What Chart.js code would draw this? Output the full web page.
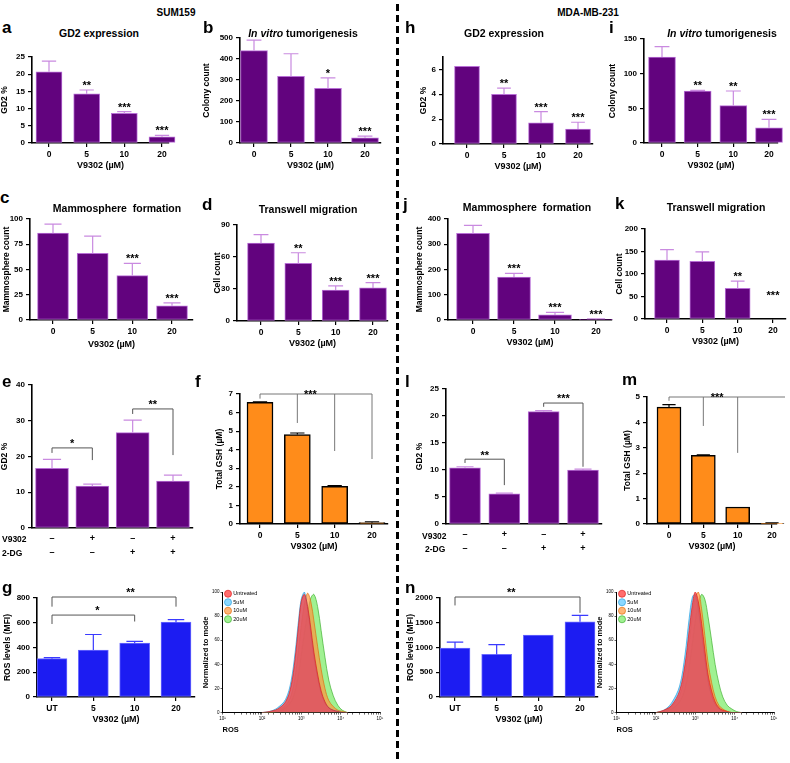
<!DOCTYPE html>
<html>
<head>
<meta charset="utf-8">
<script src="https://cdn.jsdelivr.net/npm/chart.js"></script>
<style>
  body { margin: 0; background: #fff; }
  #page { position: relative; width: 790px; height: 763px; overflow: hidden; font-family: "Liberation Sans", Arial, sans-serif; }
  #page canvas { position: absolute; }
  .lbl { position: absolute; white-space: pre; font-weight: bold; color: #000; line-height: 1; }
  .letter { font-size: 17px; transform: translateY(-50%); }
  .head { font-size: 10px; transform: translate(-50%, -50%); }
  .title { font-size: 10.5px; transform: translate(-50%, -50%); }
  .row { font-size: 8.5px; transform: translateY(-50%); }
  #divider { position: absolute; left: 396px; top: 4px; width: 3px; height: 760px;
    background: repeating-linear-gradient(to bottom, #000 0 7px, transparent 7px 11px); }
</style>
</head>
<body>
<div id="page"><div id="divider"></div></div>
<script>
// categories
const doses = ["0", "5", "10", "20"];
const rosCats = ["UT", "5", "10", "20"];
const rowV9302 = ["–", "+", "–", "+"];
const row2DG = ["–", "–", "+", "+"];

// SUM159
const gd2Sum = [20.7, 14.3, 8.6, 1.8];
const gd2SumSd = [3.1, 1.1, 0.5, 0.4];
const gd2SumStars = ["", "**", "***", "***"];
const colonySum = [440, 318, 260, 25];
const colonySumSd = [50, 107, 50, 8];
const colonySumStars = ["", "", "*", "***"];
const mammoSum = [86, 66, 44, 14];
const mammoSumSd = [9, 17, 12, 3];
const mammoSumStars = ["", "", "***", "***"];
const migSum = [73, 54, 29, 31];
const migSumSd = [8, 10, 4, 5];
const migSumStars = ["", "**", "***", "***"];
const dgSum = [16.7, 11.7, 26.7, 13.1];
const dgSumSd = [2.5, 0.6, 3.5, 1.7];
const gshSum = [6.55, 4.82, 2.03, 0.07];
const gshSumSd = [0.03, 0.08, 0.04, 0.05];
const rosSum = [310, 380, 435, 605];
const rosSumSd = [8, 125, 15, 20];

// MDA-MB-231
const gd2Mda = [6.25, 4.0, 1.7, 1.2];
const gd2MdaSd = [0, 0.5, 0.9, 0.55];
const gd2MdaStars = ["", "**", "***", "***"];
const colonyMda = [124, 75, 54, 22];
const colonyMdaSd = [15, 1, 21, 12];
const colonyMdaStars = ["", "**", "**", "***"];
const mammoMda = [343, 170, 20, 2];
const mammoMdaSd = [32, 15, 10, 3];
const mammoMdaStars = ["", "***", "***", "***"];
const migMda = [131, 128, 68, 0];
const migMdaSd = [23, 21, 16, 0];
const migMdaStars = ["", "", "**", "***"];
const dgMda = [10.4, 5.6, 20.8, 10.0];
const dgMdaSd = [0.2, 0.1, 0.2, 0.15];
const gshMda = [4.6, 2.7, 0.67, 0.03];
const gshMdaSd = [0.1, 0.02, 0, 0.02];
const rosMda = [990, 860, 1250, 1520];
const rosMdaSd = [120, 200, 0, 130];

// flow histograms (ROS, % of mode)
const histNames = ["Untreated", "5uM", "10uM", "20uM"];
const histX = [100, 160, 250, 400, 550, 700, 850, 1000, 1200, 1450, 1750, 2100, 2600, 3200, 4000, 5000, 6500, 8500, 11000, 15000];
const histSumUT = [0, 1, 3, 9, 22, 45, 72, 92, 98, 88, 70, 50, 32, 18, 9, 4, 2, 1, 0, 0];
const histSum5 = [0, 1, 4, 11, 26, 50, 76, 94, 100, 86, 66, 46, 29, 16, 8, 4, 2, 1, 0, 0];
const histSum10 = [0, 0, 2, 6, 14, 30, 52, 72, 90, 99, 92, 76, 55, 36, 20, 10, 5, 2, 1, 0];
const histSum20 = [0, 0, 1, 4, 9, 18, 32, 48, 66, 82, 95, 98, 88, 68, 46, 27, 14, 6, 2, 0];
const histMdaUT = [0, 2, 6, 18, 40, 68, 90, 100, 92, 74, 52, 32, 18, 9, 4, 2, 1, 0, 0, 0];
const histMda5 = [0, 2, 8, 22, 48, 78, 96, 98, 86, 66, 45, 27, 14, 7, 3, 1, 0, 0, 0, 0];
const histMda10 = [0, 1, 5, 14, 32, 58, 82, 96, 100, 86, 64, 42, 25, 13, 6, 3, 1, 0, 0, 0];
const histMda20 = [0, 1, 3, 9, 20, 38, 58, 76, 90, 98, 94, 80, 60, 40, 24, 13, 6, 3, 1, 0];

const FONT = '"Liberation Sans", Arial, sans-serif';
const page = document.getElementById("page");

const schemes = {
  purple: { fill: "#62037e", edge: "#b86fd6", err: "#c98ae0", edgeW: 1 },
  orange: { fill: "#ff8c1a", edge: "#000", err: "#000", edgeW: 1.5 },
  blue: { fill: "#1c1cf2", edge: "#6b6bff", err: "#3a3aff", edgeW: 1 }
};

const marks = {
  id: "marks",
  afterDatasetsDraw(chart, args, o) {
    const ctx = chart.ctx;
    const xs = chart.scales.x;
    const ys = chart.scales.y;
    const meta = chart.getDatasetMeta(0);
    const vals = chart.data.datasets[0].data;
    ctx.save();
    ctx.lineWidth = 1.2;
    ctx.strokeStyle = o.errColor;
    meta.data.forEach((bar, i) => {
      const sd = o.sd[i];
      if (!sd) return;
      const y0 = ys.getPixelForValue(vals[i].y);
      const y1 = ys.getPixelForValue(vals[i].y + sd);
      const half = o.cap / 2;
      ctx.beginPath();
      ctx.moveTo(bar.x, y0);
      ctx.lineTo(bar.x, y1);
      ctx.moveTo(bar.x - half, y1);
      ctx.lineTo(bar.x + half, y1);
      ctx.stroke();
    });
    ctx.fillStyle = "#000";
    ctx.textAlign = "center";
    ctx.textBaseline = "alphabetic";
    ctx.font = "bold 11px " + FONT;
    (o.stars || []).forEach((s, i) => {
      if (!s) return;
      let v = vals[i].y + (o.sd[i] || 0);
      if (o.starFloor) v = Math.max(v, o.starFloor);
      ctx.fillText(s, meta.data[i].x, ys.getPixelForValue(v) - 1);
    });
    (o.brackets || []).forEach(b => {
      const yTop = ys.getPixelForValue(b.y);
      const left = xs.getPixelForValue(b.xs[0]);
      const right = xs.getPixelForValue(b.xEnd != null ? b.xEnd : b.xs[b.xs.length - 1]);
      ctx.strokeStyle = o.bracketColor || "#555";
      ctx.lineWidth = 1;
      ctx.beginPath();
      ctx.moveTo(left, yTop);
      ctx.lineTo(right, yTop);
      b.xs.forEach((x, k) => {
        const px = xs.getPixelForValue(x);
        ctx.moveTo(px, yTop);
        ctx.lineTo(px, ys.getPixelForValue(b.ends[k]));
      });
      ctx.stroke();
      const lift = b.lift != null ? b.lift : 7;
      ctx.fillText(b.text, xs.getPixelForValue(b.at), yTop - lift + 6.3);
    });
    ctx.restore();
  }
};

function addCanvas(left, top, w, h) {
  const c = document.createElement("canvas");
  c.width = w;
  c.height = h;
  c.style.left = left + "px";
  c.style.top = top + "px";
  page.appendChild(c);
  return c;
}

function barChart(p) {
  const pt = p.pt || 12;
  const xh = p.xh || 28;
  const pr = 8;
  const canvas = addCanvas(p.ax - p.yw, p.top - pt, p.yw + (p.ex - p.ax) + pr, pt + (p.zero - p.top) + xh);
  const sc = schemes[p.scheme || "purple"];
  const step = (p.c3 - p.c0) / 3;
  const axisFont = { family: FONT, size: 8, weight: "bold" };

  new Chart(canvas, {
    type: "bar",
    data: {
      datasets: [{
        data: p.values.map((v, i) => ({ x: i, y: v })),
        backgroundColor: sc.fill,
        borderColor: sc.edge,
        borderWidth: sc.edgeW,
        borderSkipped: false,
        barThickness: p.bw,
        clip: false
      }]
    },
    options: {
      responsive: false,
      animation: false,
      devicePixelRatio: 1,
      layout: { padding: { top: pt, right: pr, left: 0, bottom: 0 } },
      plugins: {
        legend: { display: false },
        tooltip: { enabled: false },
        marks: {
          sd: p.sd,
          stars: p.stars,
          starFloor: p.starFloor,
          brackets: p.brackets,
          errColor: sc.err,
          bracketColor: p.bracketColor,
          cap: p.bw * 0.55
        }
      },
      scales: {
        x: {
          type: "linear",
          offset: false,
          min: -(p.c0 - p.ax) / step,
          max: 3 + (p.ex - p.c3) / step,
          afterBuildTicks: s => { s.ticks = p.labels.map((l, i) => ({ value: i })); },
          afterFit: s => { s.height = xh; },
          border: { display: true, color: "#000", width: 1.6 },
          grid: { display: true, offset: false, drawOnChartArea: false, drawTicks: !p.rows, tickLength: 4, color: "#000", lineWidth: 1.2 },
          ticks: {
            autoSkip: false,
            maxRotation: 0,
            padding: p.rows ? 4 : 3,
            color: "#000",
            font: p.rows ? { family: FONT, size: 9, weight: "bold", lineHeight: 1.5 } : { family: FONT, size: 8.5, weight: "bold" },
            callback: v => p.rows ? [rowV9302[v], row2DG[v]] : p.labels[v]
          },
          title: {
            display: !p.rows,
            text: "V9302 (µM)",
            color: "#000",
            padding: 0,
            font: { family: FONT, size: 9, weight: "bold" }
          }
        },
        y: {
          min: 0,
          max: p.max,
          afterFit: s => { s.width = p.yw; },
          border: { display: true, color: "#000", width: 1.6 },
          grid: { display: true, drawOnChartArea: false, drawTicks: true, tickLength: 4, color: "#000", lineWidth: 1.2 },
          ticks: { stepSize: p.stepY, padding: 3, color: "#000", font: axisFont, callback: v => String(v) },
          title: {
            display: true,
            text: p.yTitle,
            color: "#000",
            padding: 0,
            font: { family: FONT, size: 8.5, weight: "bold" }
          }
        }
      }
    },
    plugins: [marks]
  });
}

function histChart(p) {
  const canvas = addCanvas(p.left, p.top, p.w, p.h);
  const colors = [
    ["rgba(255,60,60,0.75)", "#e02020"],
    ["rgba(90,200,255,0.7)", "#2aa0e0"],
    ["rgba(255,150,60,0.7)", "#e07010"],
    ["rgba(120,235,100,0.7)", "#40b030"]
  ];
  const sup = { 1: "¹", 2: "²", 3: "³", 4: "⁴", 5: "⁵" };
  const tiny = { family: FONT, size: 4.5 };
  new Chart(canvas, {
    type: "line",
    data: {
      datasets: p.series.map((ys, k) => ({
        label: histNames[k],
        data: histX.map((x, i) => ({ x: x, y: ys[i] })),
        backgroundColor: colors[k][0],
        borderColor: colors[k][1],
        borderWidth: 0.7,
        fill: "origin",
        pointRadius: 0,
        tension: 0.35
      }))
    },
    options: {
      responsive: false,
      animation: false,
      devicePixelRatio: 1,
      layout: { padding: { top: 4, right: 6 } },
      plugins: {
        tooltip: { enabled: false },
        legend: {
          position: "chartArea",
          align: "start",
          labels: {
            usePointStyle: true,
            pointStyle: "circle",
            boxWidth: 5,
            boxHeight: 5,
            padding: 3,
            color: "#000",
            font: { family: FONT, size: 5.5 }
          }
        }
      },
      scales: {
        x: {
          type: "logarithmic",
          min: 10,
          max: 100000,
          border: { display: true, color: "#000", width: 1 },
          grid: { display: true, drawOnChartArea: false, tickLength: 2, color: "#000", lineWidth: 0.6 },
          ticks: {
            autoSkip: false,
            maxRotation: 0,
            padding: 1,
            color: "#000",
            font: tiny,
            callback: v => {
              const e = Math.log10(v);
              return Number.isInteger(e) ? "10" + sup[e] : "";
            }
          },
          title: { display: true, text: "ROS", align: "start", color: "#000", padding: { top: 3 }, font: { family: FONT, size: 7.5, weight: "bold" } }
        },
        y: {
          min: 0,
          max: 100,
          border: { display: true, color: "#000", width: 1 },
          grid: { display: true, drawOnChartArea: false, tickLength: 2, color: "#000", lineWidth: 0.6 },
          ticks: { stepSize: 20, padding: 1, color: "#000", font: tiny },
          title: { display: true, text: "Normalized to mode", color: "#000", padding: 1, font: { family: FONT, size: 7.5, weight: "bold" } }
        }
      }
    }
  });
}

// row 1
barChart({ ax: 32, ex: 169, top: 57, zero: 143, c0: 49, c3: 162, bw: 26, yw: 32, max: 25, stepY: 5, yTitle: "GD2 %",
  labels: doses, values: gd2Sum, sd: gd2SumSd, stars: gd2SumStars });
barChart({ ax: 240, ex: 381, top: 38, zero: 143, c0: 254, c3: 365, bw: 27, yw: 38, max: 500, stepY: 100, yTitle: "Colony count",
  labels: doses, values: colonySum, sd: colonySumSd, stars: colonySumStars });
barChart({ ax: 443, ex: 593, top: 57, zero: 144, c0: 467, c3: 578, bw: 25, yw: 24, max: 7, stepY: 1, yTitle: "GD2 %",
  labels: doses, values: gd2Mda, sd: gd2MdaSd, stars: gd2MdaStars });
barChart({ ax: 644, ex: 778, top: 39, zero: 143, c0: 662, c3: 769, bw: 27, yw: 36, max: 150, stepY: 50, yTitle: "Colony count",
  labels: doses, values: colonyMda, sd: colonyMdaSd, stars: colonyMdaStars });

// row 2
barChart({ ax: 30, ex: 193, top: 219, zero: 320, c0: 53, c3: 172, bw: 31, yw: 28, max: 100, stepY: 25, yTitle: "Mammosphere count",
  labels: doses, values: mammoSum, sd: mammoSumSd, stars: mammoSumStars, xh: 30 });
barChart({ ax: 237, ex: 388, top: 225, zero: 321, c0: 261, c3: 373, bw: 27, yw: 24, max: 90, stepY: 30, yTitle: "Cell count",
  labels: doses, values: migSum, sd: migSumSd, stars: migSumStars });
barChart({ ax: 448, ex: 612, top: 219, zero: 320, c0: 473, c3: 596, bw: 33, yw: 33, max: 400, stepY: 100, yTitle: "Mammosphere count",
  labels: doses, values: mammoMda, sd: mammoMdaSd, stars: mammoMdaStars });
barChart({ ax: 645, ex: 786, top: 229, zero: 319, c0: 667, c3: 773, bw: 25, yw: 30, max: 200, stepY: 50, yTitle: "Cell count",
  labels: doses, values: migMda, sd: migMdaSd, stars: migMdaStars, starFloor: 42 });

// row 3
barChart({ ax: 32, ex: 193, top: 385, zero: 528, c0: 52, c3: 173, bw: 33, yw: 32, max: 40, stepY: 10, yTitle: "GD2 %",
  labels: doses, values: dgSum, sd: dgSumSd, rows: true,
  brackets: [
    { xs: [0, 1], y: 22.4, ends: [21.0, 19.0], text: "*", at: 0.5 },
    { xs: [2, 3], y: 33.3, ends: [31.9, 20.4], text: "**", at: 2.5 }
  ] });
barChart({ ax: 240, ex: 388, top: 394, zero: 524, c0: 260, c3: 372, bw: 26, yw: 25, max: 7, stepY: 1, yTitle: "Total GSH (µM)",
  scheme: "orange", labels: doses, values: gshSum, sd: gshSumSd, bracketColor: "#777",
  brackets: [{ xs: [0, 1, 2, 3], y: 7, ends: [6.75, 5.44, 3.93, 3.5], text: "***", at: 1.35, lift: 2 }] });
barChart({ ax: 446, ex: 602, top: 389, zero: 524, c0: 465, c3: 583, bw: 31, yw: 31, max: 25, stepY: 5, yTitle: "GD2 %",
  labels: doses, values: dgMda, sd: dgMdaSd, rows: true,
  brackets: [
    { xs: [0, 1], y: 12.0, ends: [11.3, 7.2], text: "**", at: 0.5 },
    { xs: [2, 3], y: 22.4, ends: [21.7, 10.6], text: "***", at: 2.5 }
  ] });
barChart({ ax: 647, ex: 777, top: 397, zero: 524, c0: 669, c3: 772, bw: 24, yw: 24, max: 5, stepY: 1, yTitle: "Total GSH (µM)",
  scheme: "orange", labels: doses, values: gshMda, sd: gshMdaSd, bracketColor: "#777",
  brackets: [{ xs: [0, 1, 2], y: 5, ends: [4.85, 3.86, 2.8], xEnd: 3.45, text: "***", at: 1.4, lift: 2 }] });

// row 4
barChart({ ax: 37, ex: 195, top: 598, zero: 697, c0: 52, c3: 176, bw: 30, yw: 34, max: 800, stepY: 200, yTitle: "ROS levels (MFI)",
  scheme: "blue", labels: rosCats, values: rosSum, sd: rosSumSd, pt: 16,
  brackets: [
    { xs: [0, 2], y: 662, ends: [590, 610], text: "*", at: 1.1 },
    { xs: [0, 3], y: 808, ends: [730, 730], text: "**", at: 1.9 }
  ] });
barChart({ ax: 440, ex: 598, top: 598, zero: 697, c0: 455, c3: 580, bw: 30, yw: 34, max: 2000, stepY: 500, yTitle: "ROS levels (MFI)",
  scheme: "blue", labels: rosCats, values: rosMda, sd: rosMdaSd, pt: 16,
  brackets: [{ xs: [0, 3], y: 2020, ends: [1850, 1700], text: "**", at: 1.35 }] });

histChart({ left: 200, top: 588, w: 186, h: 150, series: [histSumUT, histSum5, histSum10, histSum20] });
histChart({ left: 594, top: 588, w: 186, h: 150, series: [histMdaUT, histMda5, histMda10, histMda20] });

// headers, panel letters and titles
const texts = [
  ["head", "SUM159", 176, 13], ["head", "MDA-MB-231", 588, 13],
  ["letter", "a", 2, 27], ["title", "GD2 expression", 99, 33],
  ["letter", "b", 203, 27], ["title", "<i>In vitro</i> tumorigenesis", 303, 33],
  ["letter", "h", 405, 27], ["title", "GD2 expression", 504, 33],
  ["letter", "i", 609, 27], ["title", "<i>In vitro</i> tumorigenesis", 722, 33],
  ["letter", "c", 0, 197], ["title", "Mammosphere  formation", 117, 208],
  ["letter", "d", 202, 204], ["title", "Transwell migration", 308, 209],
  ["letter", "j", 403, 204], ["title", "Mammosphere  formation", 527, 207],
  ["letter", "k", 615, 203], ["title", "Transwell migration", 716, 207],
  ["letter", "e", 2, 381], ["letter", "f", 195, 381], ["letter", "l", 405, 381], ["letter", "m", 622, 379],
  ["letter", "g", 2, 587], ["letter", "n", 405, 587],
  ["row", "V9302", 2, 539], ["row", "2-DG", 2, 553],
  ["row", "V9302", 422, 536], ["row", "2-DG", 425, 549]
];
texts.forEach(([cls, txt, x, y]) => {
  const d = document.createElement("div");
  d.className = "lbl " + cls;
  d.innerHTML = txt;
  d.style.left = x + "px";
  d.style.top = y + "px";
  page.appendChild(d);
});
</script>
</body>
</html>
